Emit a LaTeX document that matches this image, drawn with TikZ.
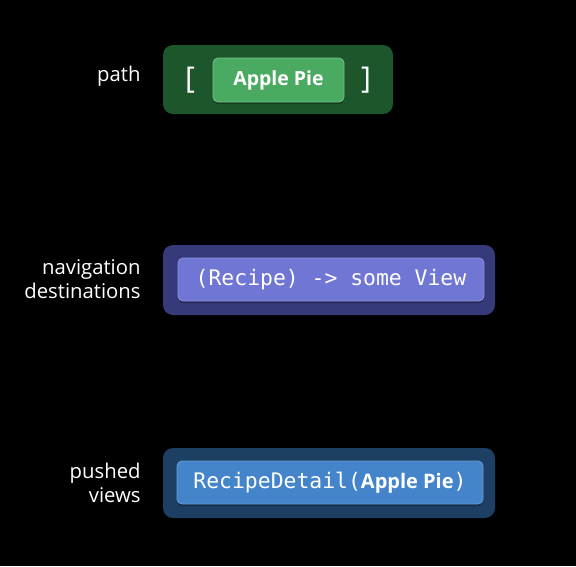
\documentclass[tikz,border=0pt]{standalone}
\usepackage{fontspec}
\setmainfont{Open Sans}
\setmonofont{DejaVu Sans Mono}
\usetikzlibrary{positioning, shadows}
\definecolor{pathOuter}{RGB}{30,86,44}
\definecolor{pathInner}{RGB}{74,170,98}
\definecolor{destOuter}{RGB}{54,58,122}
\definecolor{destInner}{RGB}{112,118,212}
\definecolor{viewOuter}{RGB}{30,63,100}
\definecolor{viewInner}{RGB}{68,132,202}
\tikzset{
    outerbox/.style={
        rectangle,
        rounded corners=10pt,
        minimum width=332pt,
        minimum height=70pt,
        inner sep=0pt
    },
    innerbox/.style={
        rectangle,
        rounded corners=5pt,
        minimum width=306pt,
        minimum height=43pt,
        inner sep=0pt,
        text=white,
        line width=0.8pt,
        drop shadow={shadow xshift=0pt, shadow yshift=-2pt, opacity=0.3, fill=black}
    },
    sidelabel/.style={
        align=right,
        text=white,
        inner sep=0pt,
        font=\fontsize{20.3}{23.5}\selectfont
    },
    bracket/.style={text=white, inner sep=0pt, font=\fontsize{30}{32}\selectfont}
}

\begin{document}
\begin{tikzpicture}[x=1pt, y=-1pt, node distance=22pt]
            \fill[black] (0,0) rectangle (576,566);
            \useasboundingbox (0,0) rectangle (576,566);
            % path
            \node[outerbox, fill=pathOuter, minimum width=230pt, minimum height=69pt] (pathbox) at (278,79.5) {};
            \node[innerbox, fill=pathInner, draw=pathInner!75!white, minimum width=131pt, minimum height=44pt,
                font=\fontsize{19.5}{24}\selectfont\bfseries] (pie) at (278.5,80) {Apple Pie};
            \node[bracket] (lbrack) at (190,80) {[};
            \node[bracket] (rbrack) at (366,80) {]};
            \node[sidelabel, left=of pathbox.west, yshift=3pt] (pathlabel) {path};
            % navigation destinations
            \node[outerbox, fill=destOuter] (destbox) at (329,280) {};
            \node[innerbox, fill=destInner, draw=destInner!80!white,
                font=\fontsize{21.4}{24}\selectfont\ttfamily] (closure) at (331,279.5) {(Recipe) -> some View};
            \node[sidelabel, left=of destbox.west, yshift=1pt] (destlabel) {navigation\\destinations};
            % pushed views
            \node[outerbox, fill=viewOuter] (viewbox) at (329,483) {};
            \node[innerbox, fill=viewInner, draw=viewInner!80!white,
                font=\fontsize{21.4}{24}\selectfont\ttfamily] (detail) at (330,482.5)
                {RecipeDetail({\rmfamily\bfseries\fontsize{20}{24}\selectfont Apple Pie})};
            \node[sidelabel, left=of viewbox.west, yshift=0pt] (viewlabel) {pushed\\views};
        \end{tikzpicture}
\end{document}
